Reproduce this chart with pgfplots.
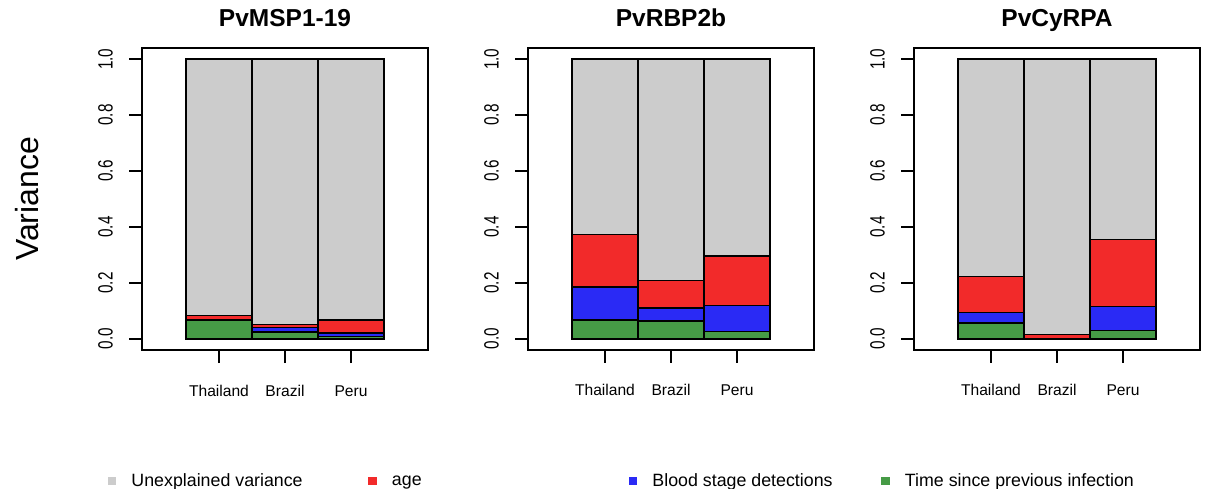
\documentclass[border=0pt]{standalone}
\usepackage{pgfplots}
\pgfplotsset{compat=1.18}
\usepackage{fontspec}
\setmainfont{Liberation Sans}
\definecolor{cgray}{HTML}{CCCCCC}
\definecolor{cred}{HTML}{F22A2A}
\definecolor{cblue}{HTML}{2A2AF5}
\definecolor{cgreen}{HTML}{469B46}
\newcommand{\yl}[1]{\scalebox{1}[1.35]{#1}}
\pgfplotsset{panel/.style={
  scale only axis, width=286pt, height=302pt, anchor=south west,
  ybar stacked, bar width=1,
  xmin=-1.1667, xmax=3.1667, ymin=-0.04, ymax=1.04,
  xtick={0,1,2}, xticklabels={Thailand,Brazil,Peru},
  ytick={0,0.2,0.4,0.6,0.8,1},
  yticklabels={\yl{0.0},\yl{0.2},\yl{0.4},\yl{0.6},\yl{0.8},\yl{1.0}},
  tick align=outside, xtick pos=bottom, ytick pos=left,
  major tick length=13pt,
  tick style={black, line width=1.5pt},
  axis line style={line width=1.6pt},
  xticklabel shift=33pt, yticklabel shift=16pt,
  x tick label style={font=\fontsize{15.6}{18}\selectfont, anchor=base, inner sep=0pt},
  y tick label style={rotate=90, anchor=south, inner sep=0pt, font=\fontsize{15.3}{18}\selectfont},
  title style={font=\fontsize{24.5}{28}\selectfont\bfseries, anchor=base, at={(0.5,1)}, yshift=15pt, inner sep=0pt},
  every axis plot/.append style={draw=black, line width=1.5pt},
}}
\begin{document}
\begin{tikzpicture}
\useasboundingbox (0pt,0pt) rectangle (1206pt,489pt);
% panel 1
\begin{axis}[panel, at={(142pt,139pt)}, title={PvMSP1-19},
  legend style={at={(-0.1189,-0.4338)}, anchor=west, draw=none, fill=none,
    inner sep=0pt, outer sep=0pt, legend columns=4,
    font=\fontsize{17.8}{20}\selectfont,
    nodes={inner sep=0pt},
    /tikz/every odd column/.append style={column sep=15pt}},
  legend cell align=left]
\addlegendimage{legend image code/.code={\fill[cgray] (0pt,-3.5pt) rectangle (7pt,3.5pt);}}
\addlegendentry{\makebox[237pt][l]{Unexplained variance}}
\addlegendimage{legend image code/.code={\fill[cred] (0pt,-3.5pt) rectangle (7pt,3.5pt);}}
\addlegendentry{\makebox[237pt][l]{age}}
\addlegendimage{legend image code/.code={\fill[cblue] (0pt,-3.5pt) rectangle (7pt,3.5pt);}}
\addlegendentry{\makebox[229pt][l]{Blood stage detections}}
\addlegendimage{legend image code/.code={\fill[cgreen] (0pt,-3.5pt) rectangle (7pt,3.5pt);}}
\addlegendentry{Time since previous infection}
\addplot[fill=cgreen, draw=black] coordinates {(0,0.068) (1,0.025) (2,0.008)};
\addplot[fill=cblue, draw=black] coordinates {(0,0.001) (1,0.015) (2,0.012)};
\addplot[fill=cred, draw=black] coordinates {(0,0.014) (1,0.012) (2,0.048)};
\addplot[fill=cgray, draw=black] coordinates {(0,0.917) (1,0.948) (2,0.932)};
\end{axis}
% panel 2
\begin{axis}[panel, at={(528pt,139pt)}, title={PvRBP2b}]
\addplot[fill=cgreen, draw=black] coordinates {(0,0.068) (1,0.063) (2,0.027)};
\addplot[fill=cblue, draw=black] coordinates {(0,0.118) (1,0.048) (2,0.093)};
\addplot[fill=cred, draw=black] coordinates {(0,0.187) (1,0.098) (2,0.176)};
\addplot[fill=cgray, draw=black] coordinates {(0,0.627) (1,0.791) (2,0.704)};
\end{axis}
% panel 3
\begin{axis}[panel, at={(914pt,139pt)}, title={PvCyRPA}]
\addplot[fill=cgreen, draw=black] coordinates {(0,0.056) (1,0.001) (2,0.029)};
\addplot[fill=cblue, draw=black] coordinates {(0,0.038) (1,0.001) (2,0.087)};
\addplot[fill=cred, draw=black] coordinates {(0,0.129) (1,0.014) (2,0.239)};
\addplot[fill=cgray, draw=black] coordinates {(0,0.777) (1,0.984) (2,0.645)};
\end{axis}
\node[rotate=90, inner sep=0pt, font=\fontsize{32}{36}\selectfont] at (27.5pt,290pt) {Variance};
\end{tikzpicture}
\end{document}
